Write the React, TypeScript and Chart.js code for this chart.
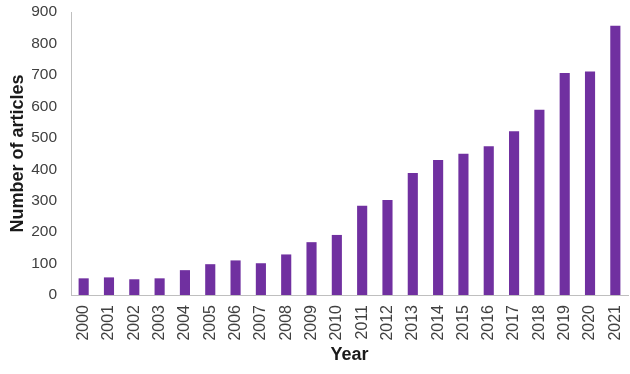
import React, { useEffect, useRef } from "react";
import { Chart, registerables } from "chart.js";

Chart.register(...registerables);

const years = ["2000","2001","2002","2003","2004","2005","2006","2007","2008","2009","2010","2011","2012","2013","2014","2015","2016","2017","2018","2019","2020","2021"];
const articles = [53, 56, 50, 53, 79, 98, 110, 101, 129, 168, 191, 284, 302, 388, 429, 449, 473, 521, 589, 706, 711, 856];
const yTicks = [0, 100, 200, 300, 400, 500, 600, 700, 800, 900];

const FONT = "'Liberation Sans', Arial, sans-serif";

export default function App() {
  const ref = useRef<HTMLCanvasElement>(null);
  useEffect(() => {
    if (!ref.current) return;
    const chart = new Chart(ref.current, {
      type: "bar",
      data: {
        labels: years,
        datasets: [
          {
            label: "Number of articles",
            data: articles,
            backgroundColor: "#7030A0",
            borderWidth: 0,
            categoryPercentage: 1,
            barPercentage: 0.4,
          },
        ],
      },
      options: {
        responsive: false,
        animation: false,
        layout: { padding: { top: 12, right: 2, left: 0, bottom: 0 } },
        plugins: { legend: { display: false }, tooltip: { enabled: false } },
        scales: {
          x: {
            grid: { display: false, drawTicks: false },
            border: { display: true, color: "#bfbfbf", width: 1 },
            ticks: {
              minRotation: 90,
              maxRotation: 90,
              padding: 10,
              color: "#404040",
              font: { family: FONT, size: 16 },
              autoSkip: false,
            },
            title: {
              display: true,
              text: "Year",
              color: "#1a1a1a",
              font: { family: FONT, size: 18, weight: "bold" },
              padding: { top: 0, bottom: 8 },
            },
            afterFit: (s: any) => {
              s.height = 79;
              s.paddingLeft = 0;
              s.paddingRight = 0;
            },
          },
          y: {
            min: 0,
            max: 900,
            afterBuildTicks: (s: any) => {
              s.ticks = yTicks.map((v) => ({ value: v }));
            },
            grid: { display: false, drawTicks: false },
            border: { display: true, color: "#bfbfbf", width: 1 },
            ticks: {
              padding: 14,
              color: "#404040",
              font: { family: FONT, size: 15.5 },
            },
            title: {
              display: true,
              text: "Number of articles",
              color: "#1a1a1a",
              font: { family: FONT, size: 18, weight: "bold" },
              padding: { top: 7, bottom: 0 },
            },
            afterFit: (s: any) => {
              s.width = 71;
              s.paddingTop = 0;
              s.paddingBottom = 0;
            },
          },
        },
      },
    });
    return () => chart.destroy();
  }, []);
  return (
    <div style={{ position: "fixed", left: 0, top: 0, width: 630, height: 374, background: "#fff" }}>
      <canvas ref={ref} width={630} height={374} />
    </div>
  );
}
